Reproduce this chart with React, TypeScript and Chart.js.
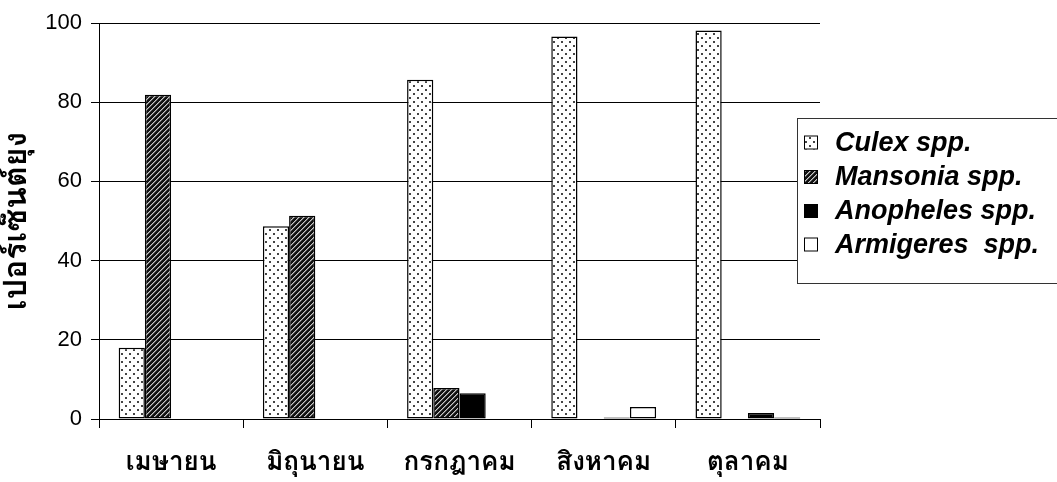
import React, { useEffect, useRef } from "react";
import { Chart, registerables } from "chart.js";

Chart.register(...registerables);

// Survey months and mosquito genus shares (percent)
const months = ["เมษายน", "มิถุนายน", "กรกฎาคม", "สิงหาคม", "ตุลาคม"];
const culex = [18.0, 48.7, 85.7, 96.6, 98.1];
const mansonia = [81.9, 51.3, 7.8, 0, 0];
const anopheles = [0, 0, 6.5, 0.4, 1.5];
const armigeres = [0, 0, 0, 3.0, 0.4];
const seriesNames = ["Culex spp.", "Mansonia spp.", "Anopheles spp.", "Armigeres  spp."];
const yTicks = [0, 20, 40, 60, 80, 100];
const yTitle = "เปอร์เซ็นต์ยุง";

const THAI_FONT = "Tahoma, Loma, 'Noto Sans Thai', 'Noto Sans', sans-serif";
const LATIN_FONT = "'Liberation Sans', Arial, sans-serif";

function dotPattern(): CanvasPattern | string {
  const c = document.createElement("canvas");
  c.width = 8;
  c.height = 8;
  const g = c.getContext("2d");
  if (!g) return "#fff";
  g.fillStyle = "#ffffff";
  g.fillRect(0, 0, 8, 8);
  g.fillStyle = "#444";
  g.fillRect(1, 1, 2, 2);
  g.fillRect(5, 5, 2, 2);
  return g.createPattern(c, "repeat") || "#fff";
}

function hatchPattern(): CanvasPattern | string {
  const n = 5;
  const c = document.createElement("canvas");
  c.width = n;
  c.height = n;
  const g = c.getContext("2d");
  if (!g) return "#333";
  for (let x = 0; x < n; x++) {
    for (let y = 0; y < n; y++) {
      const k = (x + y) % n;
      g.fillStyle = k === 0 ? "#c8c8c8" : k === 1 ? "#6a6a6a" : "#111";
      g.fillRect(x, y, 1, 1);
    }
  }
  return g.createPattern(c, "repeat") || "#333";
}

const boxLegend = {
  id: "boxLegend",
  afterDraw(chart: any) {
    const ctx = chart.ctx as CanvasRenderingContext2D;
    const left = 797.5;
    const top = 118.5;
    const w = 270;
    const h = 165;
    ctx.save();
    ctx.fillStyle = "#fff";
    ctx.fillRect(left, top, w, h);
    ctx.strokeStyle = "#333";
    ctx.lineWidth = 1;
    ctx.strokeRect(left, top, w, h);
    const rows = [142.5, 177, 211, 244.5];
    chart.data.datasets.forEach((ds: any, i: number) => {
      const cy = rows[i];
      const sx = 804;
      const sz = 14;
      ctx.fillStyle = ds.backgroundColor;
      ctx.fillRect(sx, cy - sz / 2, sz, sz);
      ctx.strokeStyle = "#000";
      ctx.lineWidth = 1;
      ctx.strokeRect(sx + 0.5, cy - sz / 2 + 0.5, sz - 1, sz - 1);
      ctx.fillStyle = "#000";
      ctx.font = `italic bold 27px ${LATIN_FONT}`;
      ctx.textBaseline = "middle";
      ctx.textAlign = "left";
      ctx.fillText(ds.label, 835, cy + 1);
    });
    ctx.restore();
  },
};

export default function App() {
  const ref = useRef<HTMLCanvasElement | null>(null);

  useEffect(() => {
    document.body.style.margin = "0";
    const canvas = ref.current;
    if (!canvas) return;
    const fills = [dotPattern(), hatchPattern(), "#000000", "#ffffff"];
    const values = [culex, mansonia, anopheles, armigeres];
    const chart = new Chart(canvas, {
      type: "bar",
      data: {
        labels: months,
        datasets: values.map((v, i) => ({
          label: seriesNames[i],
          data: v,
          backgroundColor: fills[i] as any,
          borderColor: "#000",
          borderWidth: 1.5,
          borderSkipped: false,
          categoryPercentage: 0.727,
          barPercentage: 1,
        })),
      },
      options: {
        animation: false,
        responsive: false,
        maintainAspectRatio: false,
        layout: { padding: { left: 0, right: 237, top: 23, bottom: 0 } },
        plugins: { legend: { display: false }, tooltip: { enabled: false } },
        scales: {
          x: {
            offset: true,
            grid: {
              offset: true,
              drawOnChartArea: false,
              drawTicks: true,
              tickLength: 9,
              color: "#000",
            },
            border: { color: "#000", width: 1 },
            ticks: {
              color: "#000",
              padding: 21,
              font: { family: THAI_FONT, size: 26, weight: "bold" },
            },
            afterFit: (s: any) => {
              s.height = 63;
            },
          },
          y: {
            min: 0,
            max: 100,
            afterBuildTicks: (s: any) => {
              s.ticks = yTicks.map((v) => ({ value: v }));
            },
            grid: { color: "#000", tickLength: 8, lineWidth: 1 },
            border: { color: "#000", width: 1 },
            ticks: {
              color: "#000",
              padding: 9,
              font: { family: LATIN_FONT, size: 22 },
            },
            title: {
              display: true,
              text: yTitle,
              color: "#000",
              font: { family: THAI_FONT, size: 32, weight: "bold" },
              padding: { top: 0, bottom: 0 },
            },
            afterFit: (s: any) => {
              s.width = 99;
            },
          },
        },
      },
      plugins: [boxLegend],
    });
    return () => chart.destroy();
  }, []);

  return (
    <div style={{ position: "absolute", left: 0, top: 0, width: 1057, height: 482, background: "#fff" }}>
      <canvas ref={ref} width={1057} height={482} style={{ display: "block" }} />
    </div>
  );
}
